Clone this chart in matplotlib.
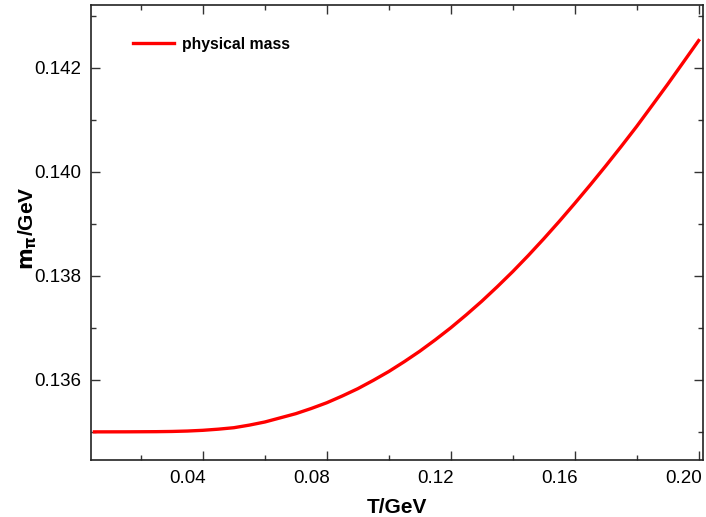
import matplotlib
matplotlib.use("Agg")
import matplotlib.pyplot as plt
from matplotlib.ticker import MultipleLocator
from matplotlib.transforms import ScaledTranslation

plt.rcParams["font.family"] = ["Liberation Sans", "DejaVu Sans"]

# pion mass vs temperature
temp_gev = [0.005, 0.015, 0.025, 0.03, 0.035, 0.04, 0.045, 0.05, 0.055,
            0.06, 0.065, 0.07, 0.075, 0.08, 0.085, 0.09, 0.095, 0.10,
            0.105, 0.11, 0.115, 0.12, 0.125, 0.13, 0.135, 0.14, 0.145,
            0.15, 0.155, 0.16, 0.165, 0.17, 0.175, 0.18, 0.185, 0.19,
            0.195, 0.20]
m_pi_gev = [0.135000, 0.135001, 0.135004, 0.135008, 0.135016, 0.135030,
            0.135052, 0.135080, 0.135130, 0.135190, 0.135270, 0.135350,
            0.135450, 0.135560, 0.135690, 0.135830, 0.135990, 0.136160,
            0.136349, 0.136550, 0.136769, 0.137000, 0.137249, 0.137510,
            0.137789, 0.138080, 0.138388, 0.138710, 0.139044, 0.139390,
            0.139745, 0.140110, 0.140485, 0.140870, 0.141274, 0.141680,
            0.142099, 0.142520]
series_label = "physical mass"

fig = plt.figure(figsize=(7.06, 5.17), dpi=100)
ax = fig.add_axes([0.1289, 0.1103, 0.8664, 0.8807])

ax.plot(temp_gev, m_pi_gev, color="#ff0000", lw=2.4, label=series_label)

ax.set_xlim(0.0039, 0.2013)
ax.set_ylim(0.13446, 0.14321)
ax.xaxis.set_major_locator(MultipleLocator(0.04))
ax.xaxis.set_minor_locator(MultipleLocator(0.02))
ax.yaxis.set_major_locator(MultipleLocator(0.002))
ax.yaxis.set_minor_locator(MultipleLocator(0.001))
ax.xaxis.set_major_formatter(plt.FuncFormatter(lambda v, p: f"{v:.2f}"))
ax.yaxis.set_major_formatter(plt.FuncFormatter(lambda v, p: f"{v:.3f}"))

ax.tick_params(which="both", direction="in", top=True, right=True,
               color="#333333", width=1.0)
ax.tick_params(which="major", length=6.5, labelsize=13.5, pad=7)
ax.tick_params(which="minor", length=3.6)
for s in ax.spines.values():
    s.set_linewidth(1.2)
    s.set_color("#222222")

ax.set_xlabel("T/GeV", fontsize=15, fontweight="bold", labelpad=8)
ax.set_ylabel(r"$\mathbf{m_{\pi}}$/GeV", fontsize=15, fontweight="bold")
ax.yaxis.set_label_coords(-0.085, 0.51)

ax.legend(loc="center left", frameon=False, prop={"weight": "bold", "size": 11.3},
          handlelength=2.6, handletextpad=0.55, borderpad=0, borderaxespad=0,
          bbox_to_anchor=(133 / 706, 1 - 44 / 517), bbox_transform=fig.transFigure)

# x tick labels in the reference sit a bit left of their ticks
fig.canvas.draw()
shift = ScaledTranslation(-15.5 / 100, 0, fig.dpi_scale_trans)
for lab in ax.get_xticklabels():
    lab.set_transform(lab.get_transform() + shift)

fig.savefig("out.png", dpi=100)
